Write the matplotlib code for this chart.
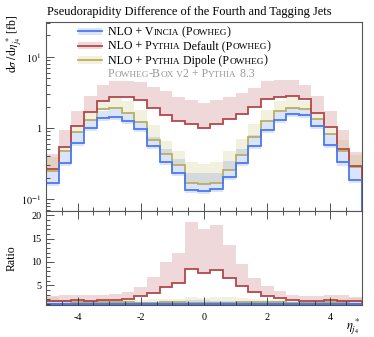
import numpy as np
import matplotlib
matplotlib.use('Agg')
import matplotlib.pyplot as plt
from matplotlib.patches import Rectangle
from matplotlib.ticker import MultipleLocator, LogLocator, NullFormatter

plt.rcParams['font.family'] = ['Liberation Serif', 'DejaVu Serif']
plt.rcParams['mathtext.fontset'] = 'stix'

# 25 bins in eta*_j4, -5 .. 5
edges = np.linspace(-5, 5, 26)

# NLO + Vincia (Powheg)
vincia = [0.167, 0.319, 0.608, 1.00, 1.372, 1.440, 1.266, 0.962, 0.555, 0.331, 0.232, 0.134, 0.132,
          0.1395, 0.203, 0.323, 0.552, 0.947, 1.278, 1.572, 1.512, 1.053, 0.583, 0.329, 0.188]
vincia_lo = [0.152, 0.29, 0.552, 0.91, 1.245, 1.306, 1.148, 0.873, 0.503, 0.30, 0.21, 0.122, 0.12,
             0.127, 0.184, 0.293, 0.50, 0.859, 1.16, 1.426, 1.372, 0.955, 0.529, 0.298, 0.171]
vincia_hi = [0.252, 0.480, 0.868, 1.295, 1.748, 1.865, 1.639, 1.266, 0.755, 0.513, 0.371, 0.236, 0.236,
             0.236, 0.348, 0.513, 0.805, 1.266, 1.693, 1.927, 1.865, 1.350, 0.832, 0.480, 0.287]

# NLO + Pythia Default (Powheg)
pydef = [0.266, 0.534, 1.077, 1.655, 2.361, 2.748, 2.704, 2.494, 1.884, 1.536, 1.266, 1.138, 1.00,
         1.138, 1.337, 1.572, 1.945, 2.576, 2.766, 2.838, 2.576, 1.628, 1.020, 0.513, 0.296]
pydef_hi = [0.432, 0.947, 1.748, 2.838, 3.958, 4.606, 4.606, 4.360, 3.710, 3.282, 2.748, 2.478, 2.25,
            2.494, 2.748, 3.096, 3.615, 4.533, 4.711, 4.711, 4.010, 2.838, 1.709, 0.937, 0.455]

# NLO + Pythia Dipole (Powheg)
pydip = [0.252, 0.480, 0.868, 1.295, 1.853, 1.895, 1.639, 1.214, 0.679, 0.436, 0.306, 0.169, 0.164,
         0.168, 0.258, 0.422, 0.738, 1.238, 1.748, 1.895, 1.835, 1.337, 0.824, 0.480, 0.287]
pydip_hi = [0.396, 0.565, 1.077, 1.655, 2.361, 2.687, 2.361, 1.806, 1.102, 0.664, 0.480, 0.337, 0.311,
            0.329, 0.480, 0.701, 1.138, 1.788, 2.361, 2.687, 2.415, 1.623, 1.020, 0.679, 0.422]

c_blue, c_red, c_olive = '#4a78f0', '#b4464b', '#b9af5f'
band_alpha = 0.2

fig = plt.figure(figsize=(3.74, 3.37), dpi=100)
ax = fig.add_axes([46 / 374, 1 - 211 / 337, 316 / 374, 189 / 337])
axr = fig.add_axes([46 / 374, 1 - 305 / 337, 316 / 374, 94 / 337])

ref = np.array(vincia)
series = [
    (vincia, vincia_lo, vincia_hi, c_blue, '#4a78f0'),
    (pydef, pydef, pydef_hi, c_red, '#b03c46'),
    (pydip, pydip, pydip_hi, c_olive, '#beb45a'),
]

for c, lo, hi, lc, bc in series:
    c, lo, hi = np.array(c), np.array(lo), np.array(hi)
    ax.stairs(hi, edges, baseline=lo, fill=True, color=bc, alpha=band_alpha, lw=0)
    axr.stairs(hi / ref, edges, baseline=lo / ref, fill=True, color=bc, alpha=band_alpha, lw=0)
for c, lo, hi, lc, bc in series[::-1]:
    c = np.array(c)
    ax.stairs(c, edges, color=lc, lw=1.3)
    axr.stairs(c / ref, edges, color=lc, lw=1.6 if lc == c_blue else 1.3)

# main panel
ax.set_yscale('log')
ax.set_xlim(-5, 5)
ax.set_ylim(0.0686, 30.7)
ax.set_yticks([0.1, 1, 10])
ax.set_yticklabels(['$10^{-1}$', '1', '$10^{1}$'])
ax.yaxis.set_minor_locator(LogLocator(base=10, subs=np.arange(2, 10)))
ax.yaxis.set_minor_formatter(NullFormatter())

# ratio panel
axr.set_xlim(-5, 5)
axr.set_ylim(0.75, 20.9)
axr.set_yticks([5, 10, 15, 20])
axr.yaxis.set_minor_locator(MultipleLocator(1))

for a in (ax, axr):
    a.xaxis.set_major_locator(MultipleLocator(2))
    a.xaxis.set_minor_locator(MultipleLocator(0.5))
    a.tick_params(which='both', direction='in', top=True, right=False, labelsize=7.3,
                  color='#333333', width=0.6)
    a.tick_params(which='major', length=6)
    a.tick_params(which='minor', length=3)
    a.tick_params(axis='x', pad=6)
    for s in a.spines.values():
        s.set_color('#555555')
        s.set_linewidth(0.8)
ax.tick_params(axis='x', which='both', top=False, labelbottom=False)
axr.set_xticks([-4, -2, 0, 2, 4])
axr.set_xticklabels(['-4', '-2', '0', '2', '4'])

fig.text(47 / 374, 1 - 12 / 337, 'Pseudorapidity Difference of the Fourth and Tagging Jets',
         fontsize=8.9, va='center', ha='left')
fig.text(14 / 374, 1 - 14 / 337, r'$\mathrm{d}\sigma\,/\,\mathrm{d}\eta^*_{j_4}$ [fb]',
         rotation=90, fontsize=8.5, ha='center', va='top')
fig.text(12 / 374, 1 - 258 / 337, 'Ratio', rotation=90, fontsize=8.5, ha='center', va='center')
fig.text(360 / 374, 1 - 327 / 337, r'$\eta^*_{j_4}$', fontsize=9, ha='right', va='center')

# legend, drawn by hand so the labels can use small caps
renderer = fig.canvas.get_renderer()


def caps_text(x, y, parts, color='black', size=8.6):
    xd, yd = ax.transAxes.transform((x, y))
    for s, small in parts:
        t = ax.text(xd, yd, s, transform=None, color=color, va='baseline',
                    fontsize=size * 0.78 if small else size)
        xd = t.get_window_extent(renderer).x1


rows = [
    (0.950, c_blue, '#4a78f0', [('NLO + V', 0), ('INCIA', 1), (' (P', 0), ('OWHEG', 1), (')', 0)]),
    (0.875, c_red, '#b03c46', [('NLO + P', 0), ('YTHIA', 1), (' Default (P', 0), ('OWHEG', 1), (')', 0)]),
    (0.799, c_olive, '#beb45a', [('NLO + P', 0), ('YTHIA', 1), (' Dipole (P', 0), ('OWHEG', 1), (')', 0)]),
]
for y, lc, bc, parts in rows:
    ax.add_patch(Rectangle((0.101, y - 0.02), 0.076, 0.04, transform=ax.transAxes,
                           facecolor=bc, alpha=band_alpha, lw=0))
    ax.plot([0.101, 0.177], [y, y], color=lc, lw=1.3, transform=ax.transAxes)
    caps_text(0.196, y - 0.019, parts)

caps_text(0.196, 0.729 - 0.019,
          [('P', 0), ('OWHEG', 1), ('-B', 0), ('OX', 1), (' V', 1), ('2 + P', 0), ('YTHIA', 1), (' 8.3', 0)],
          color='#999999')

fig.savefig('out.png', dpi=100)
